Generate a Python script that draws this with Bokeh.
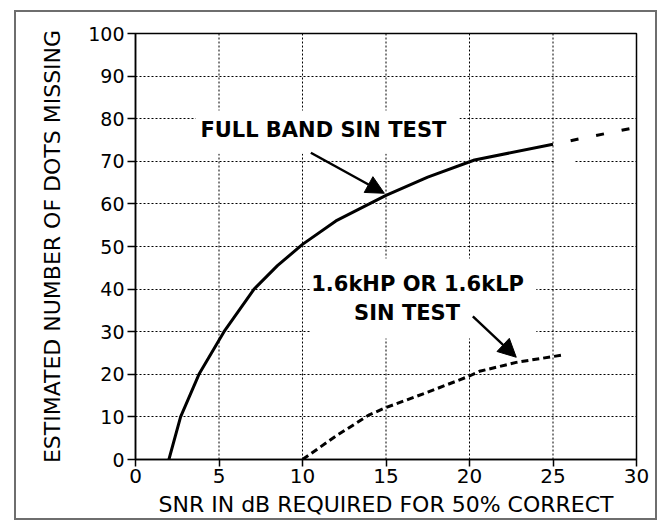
from bokeh.plotting import figure
from bokeh.models import Range1d, BoxAnnotation, Label, Arrow, NormalHead, Span
from bokeh.embed import file_html
from bokeh.resources import INLINE

# ---- data ----
full_x = [2, 2.7, 3.8, 5.3, 7.1, 8.5, 10, 12, 15, 17.5, 20.3, 25]
full_y = [0, 10, 20, 30, 40, 45.5, 50.5, 56, 62, 66.3, 70.3, 74]
full_ext_x = [25, 30]
full_ext_y = [74, 78]
hp_x = [10, 12, 14, 15, 17.5, 20, 20.6, 22.8, 25.7]
hp_y = [0, 5.5, 10.5, 12.2, 15.8, 19.6, 20.7, 22.8, 24.6]

x_ticks = [0, 5, 10, 15, 20, 25, 30]
y_ticks = [0, 10, 20, 30, 40, 50, 60, 70, 80, 90, 100]

x_title = "SNR IN dB REQUIRED FOR 50% CORRECT"
y_title = "ESTIMATED NUMBER OF DOTS MISSING"
label_full = "FULL BAND SIN TEST"
label_hp1 = "1.6kHP OR 1.6kLP"
label_hp2 = "SIN TEST"

FONT = "DejaVu Sans"

p = figure(width=643, height=510, output_backend="svg", toolbar_location=None,
           x_range=Range1d(0, 30), y_range=Range1d(0, 100),
           min_border_left=119, min_border_right=23, min_border_top=21, min_border_bottom=63,
           background_fill_color="white", border_fill_color="white",
           margin=(10, 0, 0, 14),
           styles={"border": "2px solid #6e6e6e"})

p.outline_line_color = "black"
p.outline_line_width = 1.5

# axes
p.xaxis.ticker = x_ticks
p.yaxis.ticker = y_ticks
for ax in (p.xaxis[0], p.yaxis[0]):
    ax.axis_line_color = "black"
    ax.axis_line_width = 1.5
    ax.major_tick_line_color = "black"
    ax.major_tick_line_width = 1.5
    ax.major_tick_in = 0
    ax.minor_tick_line_color = None
    ax.major_label_text_color = "black"
    ax.major_label_text_font = FONT
    ax.axis_label_text_font = FONT
    ax.axis_label_text_font_style = "normal"
    ax.axis_label_text_color = "black"
    ax.axis_label_text_font_size = "22px"

p.xaxis.major_tick_out = 7
p.xaxis.major_label_standoff = 2
p.xaxis.major_label_text_font_size = "20px"
p.xaxis.axis_label = x_title
p.xaxis.axis_label_standoff = 6

p.yaxis.major_tick_out = 8
p.yaxis.major_label_standoff = 3
p.yaxis.major_label_text_font_size = "19px"
p.yaxis.axis_label = y_title
p.yaxis.axis_label_standoff = 20

# dotted grid: horizontal lines via the y grid, vertical lines via spans
p.xgrid.grid_line_color = None
p.ygrid.grid_line_color = "black"
p.ygrid.grid_line_width = 1
p.ygrid.grid_line_dash = "2 2"
for xv in x_ticks[1:-1]:
    p.add_layout(Span(location=xv, dimension="height", line_color="black",
                      line_width=1, line_dash="2 2", level="underlay"))

# curves
p.line(full_x, full_y, line_color="black", line_width=3)
p.line(full_ext_x, full_ext_y, line_color="black", line_width=3,
       line_dash="8 18", line_dash_offset=8)
p.line(hp_x, hp_y, line_color="black", line_width=3, line_dash="7 4")

# white boxes behind the labels (they break the grid lines)
for (l, r, b, t) in [(3.6, 19.4, 71.8, 81.9), (10.48, 24.0, 28.4, 47.2), (25.08, 26.3, 68.5, 71.5)]:
    p.add_layout(BoxAnnotation(left=l, right=r, bottom=b, top=t,
                               fill_color="white", fill_alpha=1, line_alpha=0))

# labels
for (txt, x, y) in [(label_full, 11.25, 77.3), (label_hp1, 16.89, 41.3), (label_hp2, 16.26, 34.3)]:
    p.add_layout(Label(x=x, y=y, text=txt, text_font=FONT, text_font_size="21px",
                       text_font_style="bold", text_color="black",
                       text_align="center", text_baseline="middle"))

# arrows
for (xs, ys, xe, ye) in [(10.5, 72.0, 14.9, 62.5), (20.2, 33.6, 22.8, 24.0)]:
    p.add_layout(Arrow(end=NormalHead(size=18, fill_color="black", line_color="black"),
                       x_start=xs, y_start=ys, x_end=xe, y_end=ye,
                       line_color="black", line_width=2.5))

open("out.html", "w").write(file_html(p, INLINE))
